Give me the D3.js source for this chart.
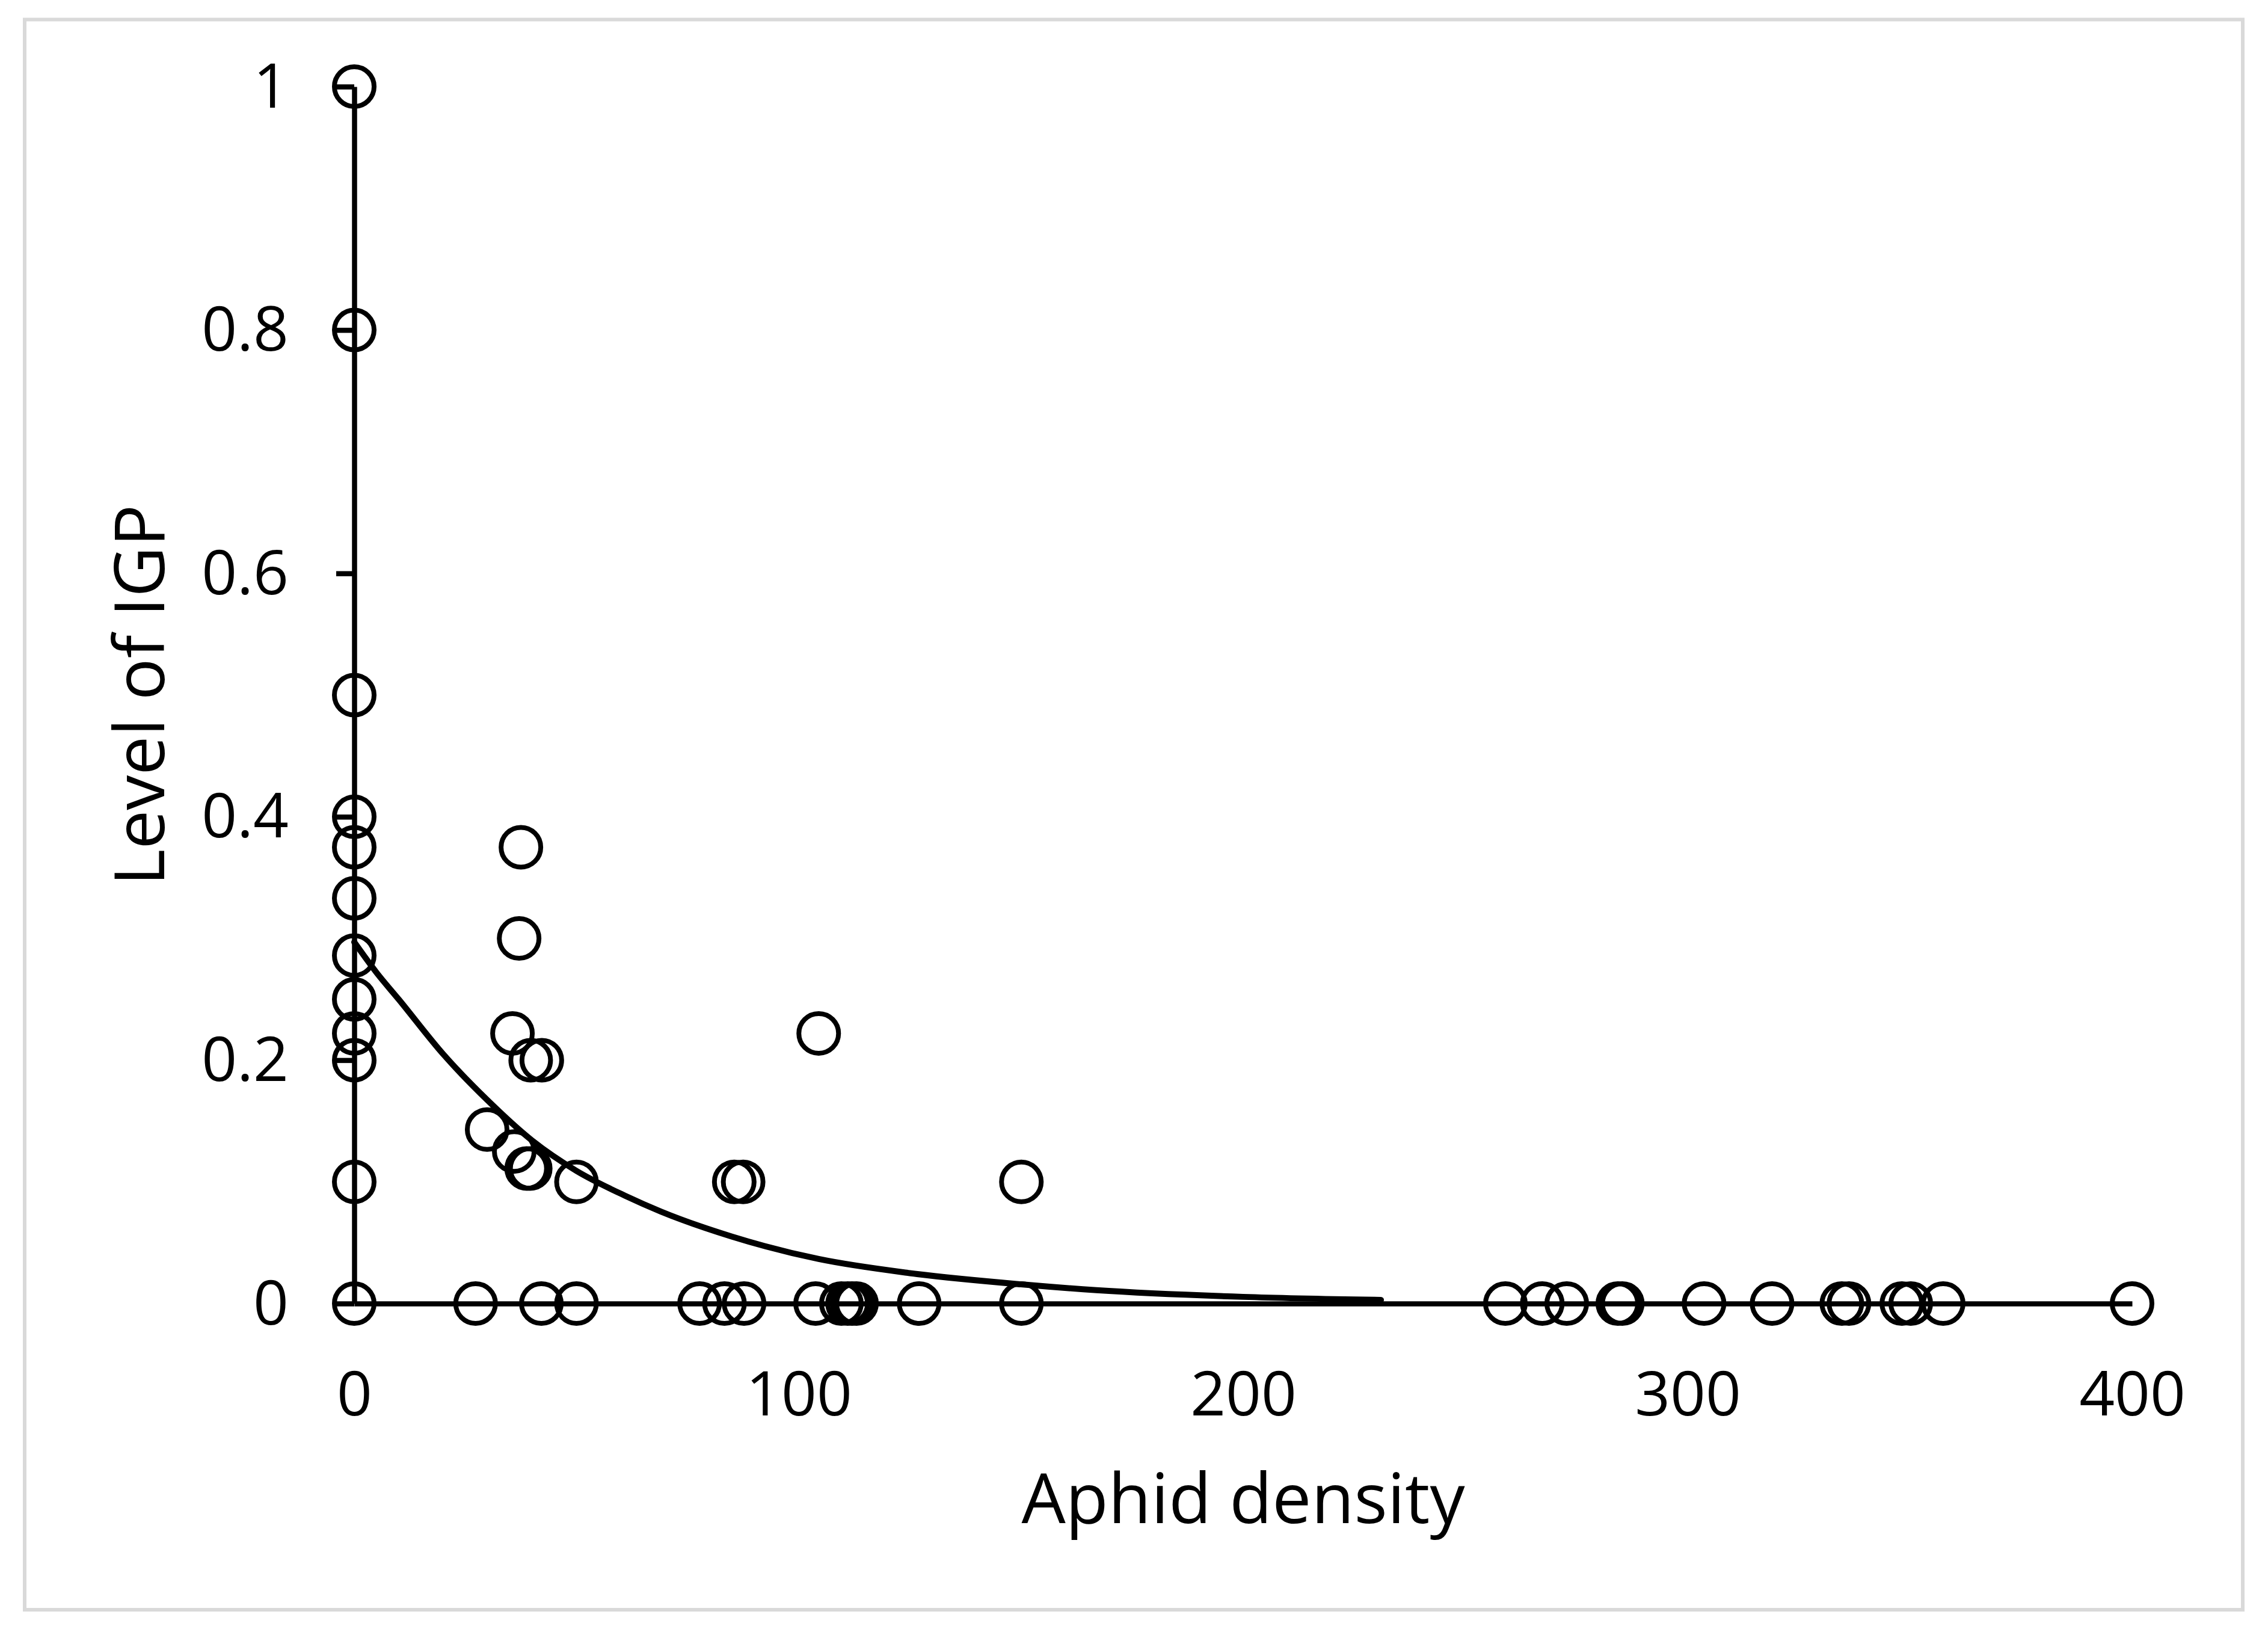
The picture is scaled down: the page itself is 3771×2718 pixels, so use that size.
<!DOCTYPE html>
<html>
<head>
<meta charset="utf-8">
<script src="https://cdn.jsdelivr.net/npm/d3@7"></script>
<style>
  html, body { margin: 0; padding: 0; background: #fff; }
  svg { display: block; }
</style>
</head>
<body>
<div id="chart"></div>
<script>
// Aphid density vs level of IGP, scatter + exponential trend line

const xTicks = [0, 100, 200, 300, 400];
const yTicks = [0, 0.2, 0.4, 0.6, 0.8, 1];

// observations (aphid density, level of IGP)
const densityX = [
  0, 0, 0, 0, 0, 0, 0, 0, 0, 0, 0, 0,
  29.9, 35.6, 36.0, 37.1, 37.5, 38.8, 39.6, 39.7, 42.2, 50, 85.5, 87.5, 104.5, 150.1,
  27.3, 42.1, 50.0, 77.7, 83.3, 87.7, 103.8, 109.6, 111, 112, 113, 127.1, 150.1,
  259.0, 267.3, 272.8, 284.3, 285.3, 303.7, 319.0, 334.7, 336.3, 348.2, 350.2, 357.5, 400
];
const igpY = [
  1, 0.8, 0.5, 0.4, 0.375, 0.333, 0.286, 0.25, 0.222, 0.2, 0.1, 0,
  0.143, 0.222, 0.125, 0.3, 0.375, 0.111, 0.111, 0.2, 0.2, 0.1, 0.1, 0.1, 0.222, 0.1,
  0, 0, 0, 0, 0, 0, 0, 0, 0, 0, 0, 0, 0,
  0, 0, 0, 0, 0, 0, 0, 0, 0, 0, 0, 0, 0
];

// trend line
const trendX = [0, 5, 10, 20, 30, 40, 50, 61, 69, 85, 104.5, 125, 150, 167, 200, 231];
const trendY = [0.297, 0.272, 0.250, 0.205, 0.167, 0.134, 0.109, 0.0885, 0.0756, 0.055, 0.0366, 0.025, 0.0158, 0.011, 0.0055, 0.003];

const W = 3771, H = 2718;
const FONT = '"Open Sans", "Noto Sans", sans-serif';

const svg = d3.select('#chart').append('svg')
  .attr('width', W).attr('height', H);

svg.append('rect').attr('width', W).attr('height', H).attr('fill', '#fff');
svg.append('rect')
  .attr('x', 41).attr('y', 32.5).attr('width', 3688).attr('height', 2643.5)
  .attr('fill', '#fff').attr('stroke', '#d9d9d9').attr('stroke-width', 6);

const x = d3.scaleLinear().domain([0, 400]).range([589, 3545]);
const y = d3.scaleLinear().domain([0, 1]).range([2167, 144]);

// y axis
svg.append('g')
  .attr('transform', `translate(${x(0)},0)`)
  .call(d3.axisLeft(y).tickValues(yTicks).tickSizeInner(30).tickSizeOuter(0).tickPadding(79)
    .tickFormat(d => d3.format('~g')(d)))
  .call(ax => ax.select('.domain').attr('stroke', '#000').attr('stroke-width', 8.5))
  .call(ax => ax.selectAll('line').attr('stroke', '#000').attr('stroke-width', 8.5))
  .call(ax => ax.selectAll('text').attr('fill', '#000').attr('font-size', 103)
    .attr('font-family', FONT).attr('dy', '0.33em'));

// x axis (no tick marks)
svg.append('g')
  .attr('transform', `translate(0,${y(0)})`)
  .call(d3.axisBottom(x).tickValues(xTicks).tickSize(0).tickPadding(113))
  .call(ax => ax.select('.domain').attr('stroke', '#000').attr('stroke-width', 8.5))
  .call(ax => ax.selectAll('text').attr('fill', '#000').attr('font-size', 103)
    .attr('font-family', FONT));

// markers
const pts = densityX.map((d, i) => ({ x: d, y: igpY[i] }));
svg.append('g').selectAll('circle')
  .data(pts)
  .join('circle')
  .attr('cx', d => x(d.x))
  .attr('cy', d => y(d.y))
  .attr('r', 33)
  .attr('fill', 'none')
  .attr('stroke', '#000')
  .attr('stroke-width', 8);

// trend line
const trend = trendX.map((d, i) => ({ x: d, y: trendY[i] }));
svg.append('path')
  .datum(trend)
  .attr('fill', 'none')
  .attr('stroke', '#000')
  .attr('stroke-width', 10)
  .attr('stroke-linecap', 'round')
  .attr('d', d3.line().x(d => x(d.x)).y(d => y(d.y)).curve(d3.curveMonotoneX));

// axis titles
svg.append('text')
  .attr('x', (x(0) + x(400)) / 2).attr('y', 2532)
  .attr('text-anchor', 'middle')
  .attr('font-family', FONT).attr('font-size', 116).attr('fill', '#000')
  .text('Aphid density');

svg.append('text')
  .attr('transform', `translate(273,${(y(0) + y(1)) / 2}) rotate(-90)`)
  .attr('text-anchor', 'middle')
  .attr('font-family', FONT).attr('font-size', 116).attr('fill', '#000')
  .text('Level of IGP');
</script>
</body>
</html>
